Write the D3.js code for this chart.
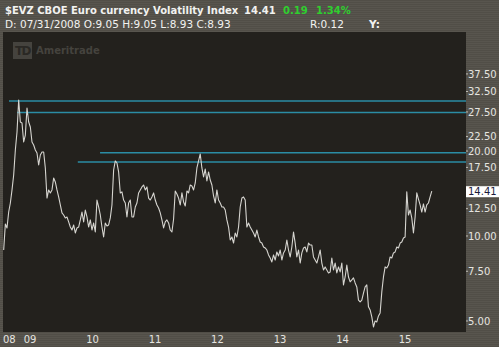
<!DOCTYPE html>
<html>
<head>
<meta charset="utf-8">
<script src="https://cdn.jsdelivr.net/npm/d3@7"></script>
<style>
body { margin: 0; background: #56534c; }
svg { display: block; }
text { font-family: "DejaVu Sans", Verdana, sans-serif; }
</style>
</head>
<body>
<div id="chart"></div>
<script>
// header
var symbol = "$EVZ"
var title = "CBOE Euro currency Volatility Index"
var lastPrice = "14.41", change = "0.19", changePct = "1.34%"
var barInfo = "D: 07/31/2008 O:9.05 H:9.05 L:8.93 C:8.93"
var extraInfo = ["R:0.12", "Y:"]

// series: closes sampled evenly between first and last date
var startDate = "2008-07-31", endDate = "2015-06-06"
var values = [8.92, 11.03, 10.68, 12.16, 13.09, 14.56, 16.45, 20.17, 23.36, 30.33,
  25.35, 25.14, 21.53, 22.79, 28.42, 25.35, 24.33, 21.53, 21.01, 20.17,
  19.68, 17.85, 19.36, 19.85, 19.85, 17.42, 13.63, 14.56, 14.21, 14.56,
  16.05, 15.54, 14.56, 13.75, 12.88, 12.07, 11.87, 11.59, 11.68, 11.22,
  10.76, 10.50, 10.94, 10.25, 10.68, 10.76, 11.40, 12.16, 11.22, 12.36,
  11.68, 10.76, 11.40, 10.50, 11.12, 10.33, 13.41, 12.67, 11.87, 10.76,
  9.92, 11.12, 10.85, 10.94, 11.59, 12.88, 17.13, 18.44, 18.14, 16.86,
  14.21, 14.33, 13.41, 13.09, 11.68, 13.09, 13.41, 11.68, 11.68, 12.67,
  13.09, 14.21, 14.56, 14.92, 15.16, 14.56, 14.92, 13.63, 13.41, 13.75,
  14.21, 13.41, 12.88, 12.57, 12.07, 11.40, 10.68, 11.22, 11.40, 11.12,
  10.50, 10.33, 11.49, 14.44, 14.09, 13.63, 12.88, 14.21, 13.20, 12.78,
  14.44, 14.21, 15.16, 15.04, 14.56, 15.41, 17.42, 18.44, 19.52, 17.42,
  16.19, 17.27, 15.66, 16.86, 15.79, 15.16, 13.86, 13.09, 14.56, 13.41,
  13.09, 12.67, 12.67, 12.36, 11.40, 10.76, 9.68, 9.92, 9.44, 10.25,
  9.92, 10.76, 12.67, 13.63, 13.75, 13.41, 10.76, 11.12, 10.76, 10.50,
  10.25, 9.92, 10.50, 9.92, 9.52, 9.44, 9.14, 9.07, 8.92, 8.57,
  8.36, 8.09, 8.57, 8.22, 8.78, 8.50, 8.92, 8.22, 8.71, 8.92,
  9.68, 8.92, 8.43, 9.14, 10.33, 9.44, 8.43, 8.92, 8.02, 8.71,
  9.07, 9.14, 8.78, 9.44, 9.29, 9.29, 8.43, 8.22, 8.02, 8.43,
  8.92, 8.02, 7.58, 7.77, 7.58, 7.40, 7.46, 8.36, 7.58, 8.02,
  7.40, 7.77, 7.46, 8.02, 6.71, 7.16, 7.89, 7.16, 6.88, 6.99,
  7.11, 6.82, 6.60, 5.93, 5.84, 5.93, 6.28, 6.60, 6.71, 5.61,
  5.47, 5.17, 4.76, 5.00, 4.96, 5.21, 5.34, 6.34, 7.16, 7.77,
  7.70, 7.89, 8.43, 8.36, 8.71, 8.78, 9.14, 9.07, 9.44, 9.52,
  9.84, 9.92, 14.33, 11.87, 12.36, 11.59, 10.25, 11.68, 14.21, 13.52,
  12.88, 12.16, 12.99, 12.16, 12.88, 13.09, 13.75, 14.41]

// price axis
var yTicks = [37.5, 32.5, 27.5, 22.5, 20, 17.5, 12.5, 10, 7.5, 5]
var lastValue = 14.41

// time axis
var firstLabel = "08"
var yearTicks = ["2009", "2010", "2011", "2012", "2013", "2014", "2015"]

// drawn resistance lines (value, start date)
var levelValues = [30.1, 27.4, 19.7, 18.3]
var levelStarts = ["2008-08-31", "2008-10-17", "2010-02-14", "2009-10-07"]

var W = 499, H = 347
var plot = {left: 3, top: 32, right: 466, bottom: 332}
var parseDate = d3.timeParse("%Y-%m-%d")

var svg = d3.select("#chart").append("svg")
  .attr("width", W)
  .attr("height", H)

var defs = svg.append("defs")
var pat = defs.append("pattern")
  .attr("id", "stripes")
  .attr("width", 4).attr("height", 2)
  .attr("patternUnits", "userSpaceOnUse")
pat.append("rect").attr("width", 4).attr("height", 2).attr("fill", "#58554e")
pat.append("rect").attr("width", 4).attr("height", 1).attr("fill", "#514e47")

svg.append("rect").attr("width", W).attr("height", H).attr("fill", "url(#stripes)")
svg.append("rect")
  .attr("x", plot.left).attr("y", plot.top)
  .attr("width", plot.right - plot.left).attr("height", plot.bottom - plot.top)
  .attr("fill", "#23211d")

var x = d3.scaleTime()
  .domain([parseDate("2008-07-27"), parseDate("2015-12-23")])
  .range([plot.left, plot.right])

var y = d3.scaleLog()
  .domain([4.57, 52.8])
  .range([plot.bottom, plot.top])

var t0 = parseDate(startDate), t1 = parseDate(endDate)
var series = values.map(function(v, i) {
  return {date: new Date(+t0 + (t1 - t0) * i / (values.length - 1)), value: v}
})

// watermark
var logo = svg.append("g").attr("transform", "translate(13,42)")
logo.append("rect").attr("width", 19).attr("height", 17).attr("fill", "#45433e")
logo.append("text").attr("x", 9.5).attr("y", 13).attr("text-anchor", "middle")
  .attr("font-size", 12).attr("font-weight", "bold").attr("fill", "#2a2824")
  .attr("letter-spacing", -1.5).text("TD")
logo.append("text").attr("x", 23).attr("y", 11.5)
  .attr("font-size", 10).attr("font-weight", "bold").attr("fill", "#45433e")
  .text("Ameritrade")

// level lines
svg.append("g").selectAll("line")
  .data(levelValues)
  .enter().append("line")
    .attr("x1", function(d, i) { return x(parseDate(levelStarts[i])) })
    .attr("x2", plot.right)
    .attr("y1", function(d) { return y(d) })
    .attr("y2", function(d) { return y(d) })
    .attr("stroke", "#2b8da5")
    .attr("stroke-width", 1.5)

// price line
var line = d3.line()
  .x(function(d) { return x(d.date) })
  .y(function(d) { return y(d.value) })

svg.append("path")
  .datum(series)
  .attr("d", line)
  .attr("fill", "none")
  .attr("stroke", "#d6d5d0")
  .attr("stroke-width", 1.1)
  .attr("stroke-linejoin", "round")

// right axis
var yAxis = svg.append("g")
yAxis.selectAll("line")
  .data(yTicks)
  .enter().append("line")
    .attr("x1", plot.right).attr("x2", plot.right + 2)
    .attr("y1", function(d) { return y(d) }).attr("y2", function(d) { return y(d) })
    .attr("stroke", "#bdbcb6")
yAxis.selectAll("text")
  .data(yTicks)
  .enter().append("text")
    .attr("x", plot.right + 2)
    .attr("y", function(d) { return y(d) })
    .attr("dy", "0.36em")
    .attr("font-size", 10)
    .attr("fill", "#e6e5e0")
    .text(function(d) { return d3.format(".2f")(d) })

var ly = y(lastValue)
svg.append("rect")
  .attr("x", plot.right).attr("y", ly - 5)
  .attr("width", W - plot.right).attr("height", 11)
  .attr("fill", "#ffffff")
svg.append("text")
  .attr("x", plot.right + 2).attr("y", ly).attr("dy", "0.36em")
  .attr("font-size", 10).attr("fill", "#1c1c3c")
  .text(d3.format(".2f")(lastValue))

// bottom axis
var xAxis = svg.append("g").attr("font-size", 10).attr("fill", "#e6e5e0")
xAxis.append("text")
  .attr("x", plot.left).attr("y", 343)
  .text(firstLabel)
xAxis.selectAll(".yr")
  .data(yearTicks)
  .enter().append("text")
    .attr("class", "yr")
    .attr("x", function(d) { return x(parseDate(d + "-01-01")) })
    .attr("y", 343)
    .attr("text-anchor", "middle")
    .text(function(d) { return d.slice(2) })

// header
svg.append("text")
  .attr("x", 5).attr("y", 14)
  .attr("font-size", 10).attr("font-weight", "bold").attr("fill", "#f2f2f0")
  .text(symbol + " " + title)
var hdr = svg.append("text").attr("y", 14).attr("font-size", 10).attr("font-weight", "bold")
hdr.append("tspan").attr("x", 244).attr("fill", "#f2f2f0").text(lastPrice)
hdr.append("tspan").attr("x", 283).attr("fill", "#2fcf2f").text(change)
hdr.append("tspan").attr("x", 316).attr("fill", "#2fcf2f").text(changePct)

svg.append("text")
  .attr("x", 5).attr("y", 28)
  .attr("font-size", 10.5).attr("fill", "#f2f2f0")
  .text(barInfo)
svg.append("text")
  .attr("x", 310).attr("y", 28)
  .attr("font-size", 10.5).attr("fill", "#f2f2f0")
  .text(extraInfo[0])
svg.append("text")
  .attr("x", 369).attr("y", 28)
  .attr("font-size", 10.5).attr("font-weight", "bold").attr("fill", "#f2f2f0")
  .text(extraInfo[1])
</script>
</body>
</html>
